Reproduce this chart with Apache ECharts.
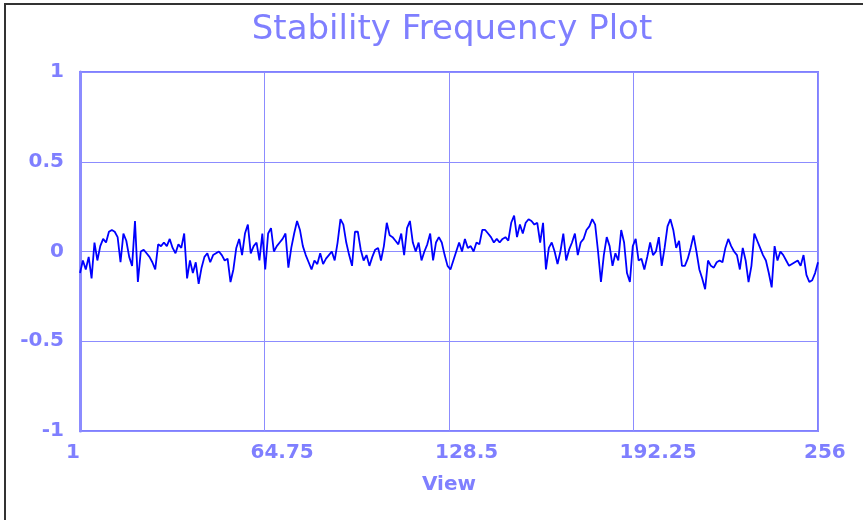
<!DOCTYPE html>
<html lang="en">
<head>
    <meta charset="UTF-8">
    <title>Stability Frequency Plot</title>
    <style>
        html, body { margin: 0; padding: 0; background: #fff; }
        #chart { width: 863px; height: 520px; }
    </style>
</head>
<body>
<div id="chart"></div>
<script src="https://cdn.jsdelivr.net/npm/echarts@6/dist/echarts.min.js"></script>
<script>
    // values, one per view (1..256)
    var stability = [
        -0.12,-0.05,-0.1,-0.03,-0.15,0.05,-0.05,0.03,0.07,0.05,
        0.11,0.12,0.11,0.08,-0.06,0.1,0.06,-0.03,-0.08,0.17,
        -0.17,0.0,0.01,-0.01,-0.03,-0.06,-0.1,0.04,0.03,0.05,
        0.03,0.07,0.02,-0.01,0.04,0.02,0.1,-0.15,-0.05,-0.12,
        -0.06,-0.18,-0.09,-0.03,-0.01,-0.06,-0.02,-0.01,0.0,-0.02,
        -0.05,-0.04,
        -0.17,-0.1,0.02,0.07,-0.02,0.1,0.15,-0.01,0.03,0.05,
        -0.05,0.1,-0.1,0.1,0.13,0.0,0.03,0.05,0.07,0.1,
        -0.09,0.02,0.1,0.17,0.12,0.03,-0.02,-0.06,-0.1,-0.05,
        -0.07,-0.01,-0.07,-0.04,-0.02,0.0,-0.05,0.05,0.18,0.15,
        0.05,-0.02,-0.08,0.11,0.11,0.01,-0.05,-0.02,-0.08,-0.03,
        0.01,
        0.02,-0.05,0.03,0.16,0.09,0.08,0.06,0.04,0.1,-0.02,
        0.13,0.17,0.05,0.0,0.05,-0.05,0.0,0.04,0.1,-0.05,
        0.05,0.08,0.05,-0.02,-0.08,-0.1,-0.05,0.0,0.05,0.0,
        0.07,0.02,0.03,0.0,0.05,0.04,0.12,0.12,0.1,0.08,
        0.05,0.07,0.05,0.07,0.08,0.06,0.16,0.2,0.08,0.15,
        0.1,0.16,
        0.18,0.17,0.15,0.16,0.05,0.16,-0.1,0.02,0.05,0.0,
        -0.07,0.0,0.1,-0.05,0.01,0.05,0.1,-0.02,0.05,0.07,
        0.12,0.14,0.18,0.15,0.0,-0.17,-0.02,0.08,0.03,-0.08,
        -0.01,-0.05,0.12,0.05,-0.12,-0.17,0.03,0.07,-0.05,-0.04,
        -0.1,-0.03,0.05,-0.02,0.0,0.08,-0.08,0.02,0.14,0.18,
        0.12,
        0.02,0.06,-0.08,-0.08,-0.04,0.02,0.09,0.0,-0.1,-0.15,
        -0.21,-0.05,-0.08,-0.09,-0.06,-0.05,-0.06,0.02,0.07,0.03,
        0.0,-0.02,-0.1,0.02,-0.05,-0.17,-0.08,0.1,0.06,0.02,
        -0.02,-0.05,-0.12,-0.2,0.03,-0.05,0.0,-0.02,-0.05,-0.08,
        -0.07,-0.06,-0.05,-0.08,-0.02,-0.13,-0.17,-0.16,-0.12,-0.06
    ];
    var viewMin = 1;
    var viewMax = 256;
    var yTicks = [-1, -0.5, 0, 0.5, 1];

    var points = [];
    for (var i = 0; i < stability.length; i++) {
        points.push([viewMin + i, stability[i]]);
    }

    var blueText = '#7f7fff';
    var blueLine = '#8c8cff';
    var labelFont = {
        color: blueText,
        fontFamily: 'DejaVu Sans',
        fontWeight: 'bold',
        fontSize: 20
    };

    var myChart = echarts.init(document.getElementById('chart'));
    var option = {
        animation: false,
        backgroundColor: '#fff',
        title: {
            text: 'Stability Frequency Plot',
            left: 447,
            top: 8,
            textAlign: 'center',
            textStyle: {
                color: blueText,
                fontFamily: 'DejaVu Sans',
                fontWeight: 'normal',
                fontSize: 34
            }
        },
        graphic: [{
            type: 'rect',
            shape: { x: 5, y: 4, width: 900, height: 600 },
            style: { fill: 'none', stroke: '#333', lineWidth: 2 },
            silent: true
        }],
        grid: {
            left: 80,
            right: 45,
            top: 72,
            bottom: 89,
            show: true,
            borderColor: '#8080ff',
            borderWidth: 2
        },
        xAxis: [{
            // axis the series lives on
            type: 'value',
            min: viewMin,
            max: viewMax,
            position: 'bottom',
            show: false
        }, {
            // display axis: same span shifted to start at 0 so the quarter ticks land right
            type: 'value',
            min: 0,
            max: viewMax - viewMin,
            interval: (viewMax - viewMin) / 4,
            position: 'bottom',
            name: 'View',
            nameLocation: 'middle',
            nameGap: 44,
            nameTextStyle: labelFont,
            axisLine: { show: true, lineStyle: { color: blueLine, width: 1 } },
            axisTick: { show: false },
            axisLabel: Object.assign({
                margin: 12,
                align: 'left',
                padding: [0, 0, 0, -14],
                formatter: function (v) { return String(v + viewMin); }
            }, labelFont),
            splitLine: { show: true, lineStyle: { color: blueLine, width: 1 } }
        }],
        yAxis: {
            type: 'value',
            min: yTicks[0],
            max: yTicks[yTicks.length - 1],
            interval: yTicks[1] - yTicks[0],
            axisLine: { show: true, lineStyle: { color: blueLine, width: 3 } },
            axisTick: { show: false },
            axisLabel: Object.assign({ margin: 16 }, labelFont),
            splitLine: { show: true, lineStyle: { color: blueLine, width: 1 } }
        },
        series: [{
            type: 'line',
            xAxisIndex: 0,
            data: points,
            showSymbol: false,
            lineStyle: { color: '#0000ff', width: 1.8 }
        }]
    };
    myChart.setOption(option);
</script>
</body>
</html>
